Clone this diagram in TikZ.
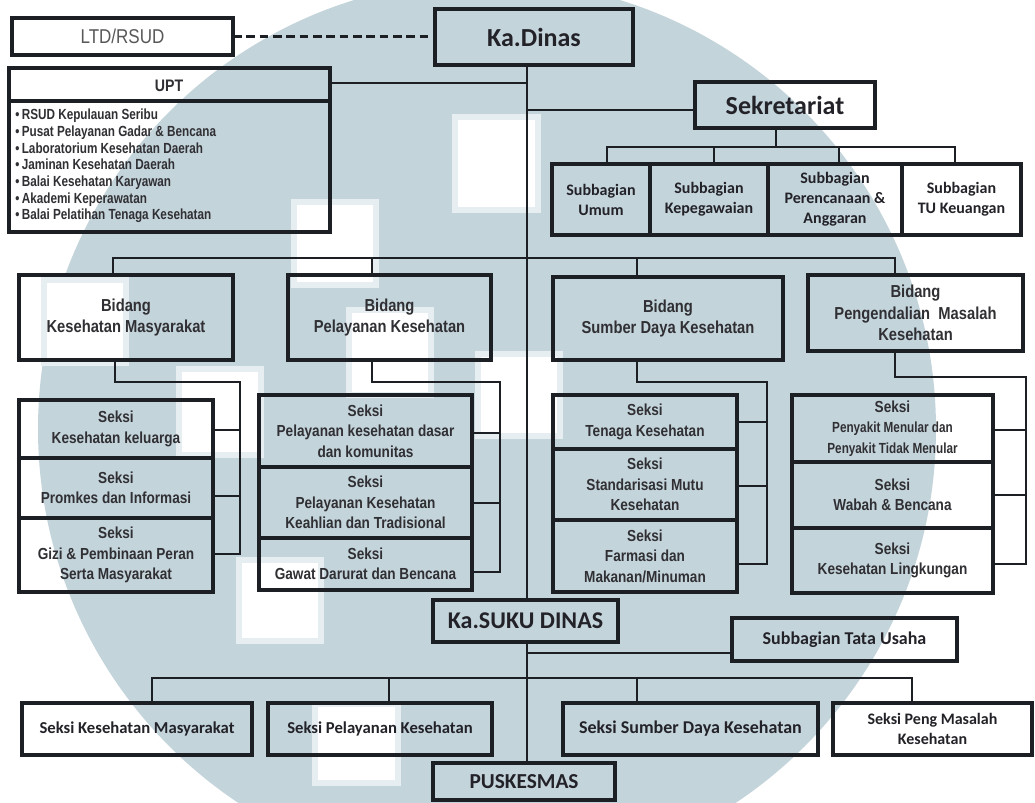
\documentclass[tikz,border=0pt]{standalone}
\usepackage{fontspec}
\usetikzlibrary{fit}
\newfontfamily\arn[FakeStretch=0.85]{Liberation Sans}
\newfontfamily\arnn[FakeStretch=0.8]{Liberation Sans}
\newfontfamily\carl{Carlito}
\definecolor{wm}{RGB}{196,212,219}
\definecolor{ln}{RGB}{28,32,36}
\definecolor{tx}{RGB}{48,48,52}
\definecolor{tc}{RGB}{34,34,40}
\tikzset{
  bx/.style={draw=ln, line width=2.6pt, inner sep=0pt, outer sep=0pt},
  tt/.style={inner sep=0pt, align=center, text=tx},
  conn/.style={draw=ln, line width=2pt},
  fS/.style={tt, font=\arn\bfseries\fontsize{12}{15.4}\selectfont},
  fB/.style={tt, font=\arn\bfseries\fontsize{13}{16}\selectfont},
  fC/.style={tt, font=\carl\bfseries\fontsize{12.5}{15}\selectfont, text=tc},
}
\begin{document}
\begin{tikzpicture}[x=0.75pt,y=-0.75pt]
\useasboundingbox (0,0) rectangle (1035,803);
\fill[white] (0,0) rectangle (1035,803);
% watermark
\begin{scope}
\clip (0,0) rectangle (1035,803);
\fill[wm] (487,429) circle[radius=336.75pt];
\foreach \a/\b/\c/\d in {458/120/535/207, 297/205/373/282, 352/313/428/392, 481/357/557/433, 242/563/318/638, 318/707/395/780, 182/372/258/452, 47/283/123/360}
  {\fill[wm!40!white] (\a-6,\b-6) rectangle (\c+6,\d+6);}
\foreach \a/\b/\c/\d in {458/120/535/207, 297/205/373/282, 352/313/428/392, 481/357/557/433, 242/563/318/638, 318/707/395/780, 182/372/258/452, 47/283/123/360}
  {\fill[white] (\a,\b) rectangle (\c,\d);}
\end{scope}
\coordinate (tr) at (527,0);

% top
\node[bx, fit={(12,18) (233,55)}] (ltd) {};
\node[tt, font=\arn\fontsize{15}{18}\selectfont, text={rgb,255:red,88;green,88;blue,88}] (ltd-t) at (ltd.center) {LTD/RSUD};
\node[bx, fit={(435,9) (633,65)}] (kadinas) {};
\node[tt, font=\carl\bfseries\fontsize{19.5}{22}\selectfont, text=tc] (kadinas-t) at (kadinas.center) {Ka.Dinas};
\node[bx, fit={(9,68) (330,232)}] (upt) {};
\draw[draw=ln, line width=2.6pt] (upt.west |- 0,101) -- (upt.east |- 0,101);
\node[tt, font=\arn\bfseries\fontsize{12.5}{15}\selectfont] (upt-t) at (169,86) {UPT};
\node[anchor=north west, align=left, inner sep=0pt, text=tx, font=\arnn\bfseries\fontsize{11}{12.5}\selectfont] (uptlist) at (15,109) {%
\textbullet\,RSUD Kepulauan Seribu\\
\textbullet\,Pusat Pelayanan Gadar \& Bencana\\
\textbullet\,Laboratorium Kesehatan Daerah\\
\textbullet\,Jaminan Kesehatan Daerah\\
\textbullet\,Balai Kesehatan Karyawan\\
\textbullet\,Akademi Keperawatan\\
\textbullet\,Balai Pelatihan Tenaga Kesehatan};

\node[bx, fit={(695,82) (875,128)}] (sek) {};
\node[tt, font=\carl\bfseries\fontsize{19.5}{22}\selectfont, text=tc] (sek-t) at (sek.center) {Sekretariat};

\tikzset{fSb/.style={fC, font=\carl\bfseries\fontsize{12}{15}\selectfont}}
\node[bx, fit={(552,164) (650,235)}] (sb1) {};
\node[fSb] (sb1-t) at (sb1.center) {Subbagian\\Umum};
\node[bx, fit={(650,164) (768,235)}] (sb2) {};
\node[fSb] (sb2-t) at (sb2.center) {Subbagian\\Kepegawaian};
\node[bx, fit={(768,164) (902,235)}] (sb3) {};
\node[fSb] (sb3-t) at (sb3.center) {Subbagian\\Perencanaan \&\\Anggaran};
\node[bx, fit={(902,164) (1021,235)}] (sb4) {};
\node[fSb] (sb4-t) at (sb4.center) {Subbagian\\TU Keuangan};

% bidang
\node[bx, fit={(19,275) (233,360)}] (bkm) {};
\node[fB] (bkm-t) at (bkm.center) {Bidang\\Kesehatan Masyarakat};
\node[bx, fit={(288,275) (491,360)}] (bpk) {};
\node[fB] (bpk-t) at (bpk.center) {Bidang\\Pelayanan Kesehatan};
\node[bx, fit={(553,277) (783,360)}] (bsdk) {};
\node[fB] (bsdk-t) at (bsdk.center) {Bidang\\Sumber Daya Kesehatan};
\node[bx, fit={(808,275) (1023,351)}] (bpmk) {};
\node[fB] (bpmk-t) at (bpmk.center) {Bidang\\Pengendalian~~Masalah\\Kesehatan};

% seksi stacks
\node[bx, fit={(19,400) (213,458)}] (k1) {};
\node[fS] (k1-t) at (k1.center) {Seksi\\Kesehatan keluarga};
\node[bx, fit={(19,458) (213,518)}] (k2) {};
\node[fS] (k2-t) at (k2.center) {Seksi\\Promkes dan Informasi};
\node[bx, fit={(19,518) (213,592)}] (k3) {};
\node[fS] (k3-t) at (k3.center) {Seksi\\Gizi \& Pembinaan Peran\\Serta Masyarakat};

\node[bx, fit={(259,395) (472,467)}] (p1) {};
\node[fS] (p1-t) at (p1.center) {Seksi\\Pelayanan kesehatan dasar\\dan komunitas};
\node[bx, fit={(259,467) (472,538)}] (p2) {};
\node[fS] (p2-t) at (p2.center) {Seksi\\Pelayanan Kesehatan\\Keahlian dan Tradisional};
\node[bx, fit={(259,538) (472,590)}] (p3) {};
\node[fS] (p3-t) at (p3.center) {Seksi\\Gawat Darurat dan Bencana};

\node[bx, fit={(553,395) (737,449)}] (s1) {};
\node[fS] (s1-t) at (s1.center) {Seksi\\Tenaga Kesehatan};
\node[bx, fit={(553,449) (737,520)}] (s2) {};
\node[fS] (s2-t) at (s2.center) {Seksi\\Standarisasi Mutu\\Kesehatan};
\node[bx, fit={(553,520) (737,592)}] (s3) {};
\node[fS] (s3-t) at (s3.center) {Seksi\\Farmasi dan\\Makanan/Minuman};

\node[bx, fit={(792,395) (993,462)}] (m1) {};
\node[fS] (m1-t) at (m1.center) {Seksi\\{\arnn\fontsize{11}{13.5}\selectfont Penyakit Menular dan}\\{\arnn\fontsize{11}{13.5}\selectfont Penyakit Tidak Menular}};
\node[bx, fit={(792,462) (993,528)}] (m2) {};
\node[fS] (m2-t) at (m2.center) {Seksi\\Wabah \& Bencana};
\node[bx, fit={(792,528) (993,593)}] (m3) {};
\node[fS] (m3-t) at (m3.center) {Seksi\\Kesehatan Lingkungan};

% suku dinas
\node[bx, fit={(433,600) (618,642)}] (kasuku) {};
\node[tt, font=\carl\bfseries\fontsize{18}{20}\selectfont, text=tc] (kasuku-t) at (kasuku.center) {Ka.SUKU DINAS};
\node[bx, fit={(732,618) (957,661)}] (sbtu) {};
\node[fC, font=\carl\bfseries\fontsize{13.5}{15}\selectfont] (sbtu-t) at (sbtu.center) {Subbagian Tata Usaha};
\node[bx, fit={(22,703) (252,755)}] (b1) {};
\node[fC] (b1-t) at (b1.center) {Seksi Kesehatan Masyarakat};
\node[bx, fit={(268,703) (492,755)}] (b2) {};
\node[fC] (b2-t) at (b2.center) {Seksi Pelayanan Kesehatan};
\node[bx, fit={(563,703) (818,755)}] (b3) {};
\node[fC, font=\carl\bfseries\fontsize{13.5}{15}\selectfont] (b3-t) at (b3.center) {Seksi Sumber Daya Kesehatan};
\node[bx, fit={(833,703) (1032,755)}] (b4) {};
\node[fC, font=\carl\bfseries\fontsize{12}{14.5}\selectfont] (b4-t) at (b4.center) {Seksi Peng Masalah\\Kesehatan};
\node[bx, fit={(433,763) (615,800)}] (pusk) {};
\node[tt, font=\carl\bfseries\fontsize{16}{18}\selectfont, text=tc] (pusk-t) at (pusk.center) {PUSKESMAS};

% connectors
\draw[conn, dash pattern=on 6.5pt off 3.5pt] (ltd.east) -- (kadinas.west |- ltd.east);
\draw[conn] (kadinas.south -| tr) -- (kasuku.north -| tr);
\draw[conn] (kasuku.south -| tr) -- (pusk.north -| tr);
\draw[conn] (upt.east |- 0,83) -- (tr |- 0,83);
\draw[conn] (tr |- 0,110) -- (sek.west |- 0,110);
\draw[conn] (sek.south -| 776,0) -- (776,147);
\draw[conn] (sb1.north -| 607,0) -- (607,147) -- (955,147) -- (sb4.north -| 955,0);
\draw[conn] (714,147) -- (sb2.north -| 714,0);
\draw[conn] (839,147) -- (sb3.north -| 839,0);

\draw[conn] (bkm.north -| 113,0) -- (113,258) -- (895,258) -- (bpmk.north -| 895,0);
\draw[conn] (372,258) -- (bpk.north -| 372,0);
\draw[conn] (637,258) -- (bsdk.north -| 637,0);

\draw[conn] (bkm.south -| 115,0) -- (115,382) -- (240,382) -- (240,555);
\draw[conn] (k1.east |- 0,430) -- (240,430);
\draw[conn] (k2.east |- 0,496) -- (240,496);
\draw[conn] (k3.east |- 0,554) -- (240,554);

\draw[conn] (bpk.south -| 372,0) -- (372,382) -- (500,382) -- (500,573);
\draw[conn] (p1.east |- 0,433) -- (500,433);
\draw[conn] (p2.east |- 0,503) -- (500,503);
\draw[conn] (p3.east |- 0,572) -- (500,572);

\draw[conn] (bsdk.south -| 637,0) -- (637,382) -- (767,382) -- (767,565);
\draw[conn] (s1.east |- 0,422) -- (767,422);
\draw[conn] (s2.east |- 0,486) -- (767,486);
\draw[conn] (s3.east |- 0,564) -- (767,564);

\draw[conn] (bpmk.south -| 895,0) -- (895,377) -- (1026,377) -- (1026,565);
\draw[conn] (m1.east |- 0,430) -- (1026,430);
\draw[conn] (m2.east |- 0,495) -- (1026,495);
\draw[conn] (m3.east |- 0,564) -- (1026,564);

\draw[conn] (tr |- 0,653) -- (sbtu.west |- 0,653);
\draw[conn] (b1.north -| 152,0) -- (152,678) -- (912,678) -- (b4.north -| 912,0);
\draw[conn] (389,678) -- (b2.north -| 389,0);
\draw[conn] (637,678) -- (b3.north -| 637,0);
\end{tikzpicture}
\end{document}
